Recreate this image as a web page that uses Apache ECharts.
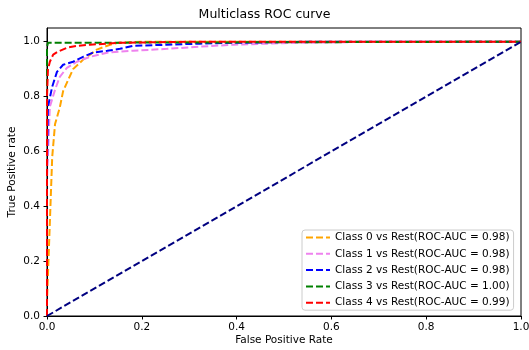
<!DOCTYPE html>
<html>
<head>
<meta charset="utf-8">
<script src="https://cdn.jsdelivr.net/npm/echarts@6/dist/echarts.min.js"></script>
<style>
  html, body { margin: 0; padding: 0; background: #fff; }
  #chart { width: 529px; height: 350px; }
</style>
</head>
<body>
<div id="chart"></div>
<script>
// ROC curves
var classNames = ["Class 0", "Class 1", "Class 2", "Class 3", "Class 4"];
var aucValues = ["0.98", "0.98", "0.98", "1.00", "0.99"];
var lineColors = ["orange", "violet", "blue", "green", "red"];

var fpr0 = [0, 0, 0.002, 0.006, 0.011, 0.017, 0.027, 0.034, 0.055, 0.076, 0.105, 0.133, 0.15, 0.2, 1];
var tpr0 = [0, 0.05, 0.15, 0.34, 0.58, 0.70, 0.76, 0.82, 0.90, 0.934, 0.971, 0.989, 0.996, 1, 1];

var fpr1 = [0, 0, 0.006, 0.017, 0.027, 0.042, 0.063, 0.091, 0.127, 0.181, 0.253, 0.323, 0.392, 0.464, 0.534, 0.7, 1];
var tpr1 = [0, 0.5, 0.763, 0.825, 0.872, 0.905, 0.927, 0.945, 0.96, 0.967, 0.974, 0.982, 0.989, 0.993, 0.996, 1, 1];

var fpr2 = [0, 0, 0.002, 0.011, 0.021, 0.034, 0.055, 0.076, 0.097, 0.127, 0.154, 0.181, 0.253, 0.323, 0.392, 0.55, 1];
var tpr2 = [0, 0.55, 0.763, 0.836, 0.89, 0.916, 0.927, 0.945, 0.96, 0.967, 0.974, 0.985, 0.989, 0.993, 0.996, 1, 1];

var fpr3 = [0, 0, 0.002, 0.006, 1];
var tpr3 = [0, 0.98, 0.996, 1, 1];

var fpr4 = [0, 0, 0.002, 0.006, 0.013, 0.023, 0.042, 0.063, 0.091, 0.127, 0.154, 0.3, 1];
var tpr4 = [0, 0.8, 0.898, 0.927, 0.953, 0.964, 0.978, 0.985, 0.989, 0.993, 0.996, 1, 1];

var diagX = [0, 1];
var diagY = [0, 1];

var tickValues = [0, 0.2, 0.4, 0.6, 0.8, 1.0];

var fprs = [fpr0, fpr1, fpr2, fpr3, fpr4];
var tprs = [tpr0, tpr1, tpr2, tpr3, tpr4];

function pairs(xs, ys) {
  return xs.map(function (x, i) { return [x, ys[i]]; });
}

var font = "DejaVu Sans";
var series = [];
for (var i = 0; i < fprs.length; i++) {
  series.push({
    name: classNames[i] + " vs Rest(ROC-AUC = " + aucValues[i] + ")",
    type: "line",
    data: pairs(fprs[i], tprs[i]),
    symbol: "none",
    color: lineColors[i],
    lineStyle: { color: lineColors[i], width: 2, type: [7, 3] }
  });
}
series.push({
  name: "diag",
  type: "line",
  data: pairs(diagX, diagY),
  symbol: "none",
  color: "navy",
  lineStyle: { color: "navy", width: 2, type: [7, 3] }
});

var chart = echarts.init(document.getElementById("chart"));
chart.setOption({
  animation: false,
  textStyle: { fontFamily: font },
  title: {
    text: "Multiclass ROC curve",
    left: "center",
    top: 3,
    textStyle: { fontFamily: font, fontSize: 12.5, fontWeight: "normal", color: "#000" }
  },
  grid: {
    left: 47, right: 8, top: 28, bottom: 34,
    outerBoundsMode: "none",
    containLabel: false,
    show: true, borderColor: "#000", borderWidth: 1
  },
  legend: {
    data: series.slice(0, 5).map(function (s) { return s.name; }),
    orient: "vertical",
    left: 302,
    top: 230,
    padding: [2, 4, 2, 3],
    itemWidth: 24,
    itemHeight: 10.5,
    itemGap: 5.3,
    itemStyle: { opacity: 0 },
    backgroundColor: "rgba(255,255,255,0.8)",
    borderColor: "#ccc",
    borderWidth: 1,
    borderRadius: 3,
    textStyle: { fontFamily: font, fontSize: 10.5, color: "#000", lineHeight: 10.5 }
  },
  xAxis: {
    type: "value",
    min: 0, max: 1,
    name: "False Positive Rate",
    nameLocation: "middle",
    nameGap: 19,
    nameMoveOverlap: false,
    nameTextStyle: { fontFamily: font, fontSize: 10.5, color: "#000" },
    axisLine: { lineStyle: { color: "#000" } },
    axisTick: { customValues: tickValues, length: 3.5, lineStyle: { color: "#000" } },
    axisLabel: {
      customValues: tickValues,
      margin: 6,
      fontSize: 10.5, color: "#000", fontFamily: font,
      formatter: function (v) { return v.toFixed(1); }
    },
    splitLine: { show: false }
  },
  yAxis: {
    type: "value",
    min: 0, max: 1.05,
    name: "True Positive rate",
    nameLocation: "middle",
    nameGap: 29,
    nameMoveOverlap: false,
    nameTextStyle: { fontFamily: font, fontSize: 10.5, color: "#000" },
    axisLine: { show: true, lineStyle: { color: "#000" } },
    axisTick: { show: true, customValues: tickValues, length: 3.5, lineStyle: { color: "#000" } },
    axisLabel: {
      customValues: tickValues,
      margin: 7,
      fontSize: 10.5, color: "#000", fontFamily: font,
      formatter: function (v) { return v.toFixed(1); }
    },
    splitLine: { show: false }
  },
  series: series
});
</script>
</body>
</html>
